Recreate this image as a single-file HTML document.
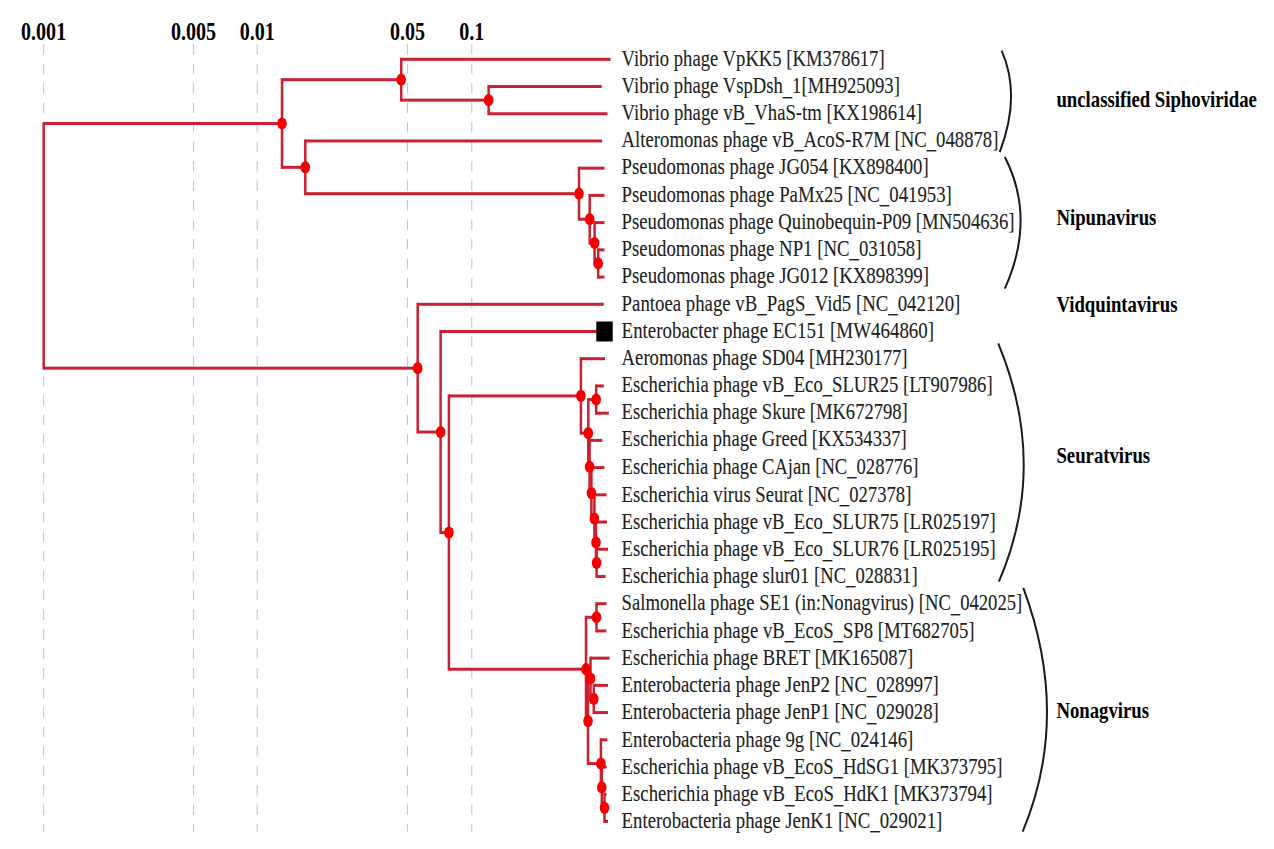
<!DOCTYPE html>
<html><head><meta charset="utf-8"><style>
html,body{margin:0;padding:0;background:#fff;}
body{width:1274px;height:849px;overflow:hidden;}
svg{display:block;}
text{font-family:"Liberation Serif",serif;}
</style></head><body>
<svg width="1274" height="849" viewBox="0 0 1274 849">
<rect width="1274" height="849" fill="#fff"/>

<line x1="43.6" y1="44" x2="43.6" y2="831.5" stroke="#c8c8c8" stroke-width="1.1" stroke-dasharray="10.5 9"/>
<line x1="193.5" y1="44" x2="193.5" y2="831.5" stroke="#c8c8c8" stroke-width="1.1" stroke-dasharray="10.5 9"/>
<line x1="257.2" y1="44" x2="257.2" y2="831.5" stroke="#c8c8c8" stroke-width="1.1" stroke-dasharray="10.5 9"/>
<line x1="407.5" y1="44" x2="407.5" y2="831.5" stroke="#c8c8c8" stroke-width="1.1" stroke-dasharray="10.5 9"/>
<line x1="471.8" y1="44" x2="471.8" y2="831.5" stroke="#c8c8c8" stroke-width="1.1" stroke-dasharray="10.5 9"/>
<text transform="translate(43.6,39.6) scale(0.7882352941176471,1)" font-size="25.5" font-weight="bold" text-anchor="middle" fill="#000">0.001</text>
<text transform="translate(193.5,39.6) scale(0.7882352941176471,1)" font-size="25.5" font-weight="bold" text-anchor="middle" fill="#000">0.005</text>
<text transform="translate(257.2,39.6) scale(0.7882352941176471,1)" font-size="25.5" font-weight="bold" text-anchor="middle" fill="#000">0.01</text>
<text transform="translate(407.5,39.6) scale(0.7882352941176471,1)" font-size="25.5" font-weight="bold" text-anchor="middle" fill="#000">0.05</text>
<text transform="translate(471.8,39.6) scale(0.7882352941176471,1)" font-size="25.5" font-weight="bold" text-anchor="middle" fill="#000">0.1</text>
<g fill="#ca2130">
<rect x="42.45" y="122.02" width="2.50" height="247.63"/>
<rect x="43.70" y="122.02" width="238.30" height="3.00"/>
<rect x="43.70" y="366.66" width="374.00" height="3.00"/>
<rect x="280.75" y="78.22" width="2.50" height="90.61"/>
<rect x="282.00" y="78.22" width="119.20" height="3.00"/>
<rect x="282.00" y="165.83" width="23.30" height="3.00"/>
<rect x="399.95" y="57.80" width="2.50" height="43.83"/>
<rect x="401.20" y="57.80" width="209.30" height="3.00"/>
<rect x="401.20" y="98.63" width="87.40" height="3.00"/>
<rect x="487.35" y="85.02" width="2.50" height="30.22"/>
<rect x="488.60" y="85.02" width="113.10" height="3.00"/>
<rect x="488.60" y="112.24" width="118.90" height="3.00"/>
<rect x="304.05" y="139.46" width="2.50" height="55.74"/>
<rect x="305.30" y="139.46" width="296.80" height="3.00"/>
<rect x="305.30" y="192.20" width="273.70" height="3.00"/>
<rect x="577.75" y="166.68" width="2.50" height="54.04"/>
<rect x="579.00" y="166.68" width="25.50" height="3.00"/>
<rect x="579.00" y="217.72" width="10.70" height="3.00"/>
<rect x="588.45" y="193.90" width="2.50" height="50.64"/>
<rect x="589.70" y="193.90" width="14.80" height="3.00"/>
<rect x="589.70" y="241.53" width="4.90" height="3.00"/>
<rect x="593.35" y="221.12" width="2.50" height="43.83"/>
<rect x="594.60" y="221.12" width="9.90" height="3.00"/>
<rect x="594.60" y="261.95" width="3.60" height="3.00"/>
<rect x="596.95" y="248.34" width="2.50" height="30.22"/>
<rect x="598.20" y="248.34" width="6.30" height="3.00"/>
<rect x="598.20" y="275.56" width="6.30" height="3.00"/>
<rect x="416.45" y="302.78" width="2.50" height="130.75"/>
<rect x="417.70" y="302.78" width="186.10" height="3.00"/>
<rect x="417.70" y="430.53" width="22.90" height="3.00"/>
<rect x="439.35" y="330.00" width="2.50" height="204.07"/>
<rect x="440.60" y="330.00" width="156.40" height="3.00"/>
<rect x="440.60" y="531.07" width="8.30" height="3.00"/>
<rect x="447.65" y="394.43" width="2.50" height="276.26"/>
<rect x="448.90" y="394.43" width="132.00" height="3.00"/>
<rect x="448.90" y="667.70" width="137.10" height="3.00"/>
<rect x="579.65" y="357.22" width="2.50" height="77.43"/>
<rect x="580.90" y="357.22" width="24.10" height="3.00"/>
<rect x="580.90" y="431.65" width="7.40" height="3.00"/>
<rect x="587.05" y="398.05" width="2.50" height="70.20"/>
<rect x="588.30" y="398.05" width="7.90" height="3.00"/>
<rect x="588.30" y="465.25" width="1.30" height="3.00"/>
<rect x="594.95" y="384.44" width="2.50" height="30.22"/>
<rect x="596.20" y="384.44" width="7.60" height="3.00"/>
<rect x="596.20" y="411.66" width="12.60" height="3.00"/>
<rect x="588.35" y="438.88" width="2.50" height="55.74"/>
<rect x="589.60" y="438.88" width="12.70" height="3.00"/>
<rect x="589.60" y="491.62" width="1.80" height="3.00"/>
<rect x="590.15" y="466.10" width="2.50" height="54.04"/>
<rect x="591.40" y="466.10" width="13.00" height="3.00"/>
<rect x="591.40" y="517.14" width="3.00" height="3.00"/>
<rect x="593.15" y="493.32" width="2.50" height="50.63"/>
<rect x="594.40" y="493.32" width="12.20" height="3.00"/>
<rect x="594.40" y="540.95" width="1.60" height="3.00"/>
<rect x="594.75" y="520.54" width="2.50" height="43.83"/>
<rect x="596.00" y="520.54" width="11.00" height="3.00"/>
<rect x="596.00" y="561.37" width="0.60" height="3.00"/>
<rect x="595.35" y="547.76" width="2.50" height="30.22"/>
<rect x="596.60" y="547.76" width="11.40" height="3.00"/>
<rect x="596.60" y="574.98" width="9.00" height="3.00"/>
<rect x="584.75" y="615.81" width="2.50" height="106.78"/>
<rect x="586.00" y="615.81" width="10.50" height="3.00"/>
<rect x="586.00" y="719.59" width="2.00" height="3.00"/>
<rect x="595.25" y="602.20" width="2.50" height="30.22"/>
<rect x="596.50" y="602.20" width="10.00" height="3.00"/>
<rect x="596.50" y="629.42" width="9.80" height="3.00"/>
<rect x="586.75" y="677.05" width="2.50" height="88.06"/>
<rect x="588.00" y="677.05" width="2.50" height="3.00"/>
<rect x="588.00" y="762.12" width="12.90" height="3.00"/>
<rect x="589.25" y="656.64" width="2.50" height="43.83"/>
<rect x="590.50" y="656.64" width="19.00" height="3.00"/>
<rect x="590.50" y="697.47" width="3.30" height="3.00"/>
<rect x="592.55" y="683.86" width="2.50" height="30.22"/>
<rect x="593.80" y="683.86" width="14.20" height="3.00"/>
<rect x="593.80" y="711.08" width="14.20" height="3.00"/>
<rect x="599.65" y="738.30" width="2.50" height="50.63"/>
<rect x="600.90" y="738.30" width="6.50" height="3.00"/>
<rect x="600.90" y="785.93" width="0.90" height="3.00"/>
<rect x="600.55" y="765.52" width="2.50" height="43.83"/>
<rect x="601.80" y="765.52" width="4.90" height="3.00"/>
<rect x="601.80" y="806.35" width="2.70" height="3.00"/>
<rect x="603.25" y="792.74" width="2.50" height="30.22"/>
<rect x="604.50" y="792.74" width="2.00" height="3.00"/>
<rect x="604.50" y="819.96" width="3.50" height="3.00"/>
</g>
<g fill="#f50000">
<ellipse cx="282.00" cy="123.52" rx="4.8" ry="6.1"/>
<ellipse cx="401.20" cy="79.72" rx="4.8" ry="6.1"/>
<ellipse cx="488.60" cy="100.13" rx="4.8" ry="6.1"/>
<ellipse cx="305.30" cy="167.33" rx="4.8" ry="6.1"/>
<ellipse cx="579.00" cy="193.70" rx="4.8" ry="6.1"/>
<ellipse cx="589.70" cy="219.22" rx="4.8" ry="6.1"/>
<ellipse cx="594.60" cy="243.03" rx="4.8" ry="6.1"/>
<ellipse cx="598.20" cy="263.45" rx="4.8" ry="6.1"/>
<ellipse cx="417.70" cy="368.16" rx="4.8" ry="6.1"/>
<ellipse cx="440.60" cy="432.03" rx="4.8" ry="6.1"/>
<ellipse cx="448.90" cy="532.57" rx="4.8" ry="6.1"/>
<ellipse cx="580.90" cy="395.93" rx="4.8" ry="6.1"/>
<ellipse cx="588.30" cy="433.15" rx="4.8" ry="6.1"/>
<ellipse cx="596.20" cy="399.55" rx="4.8" ry="6.1"/>
<ellipse cx="589.60" cy="466.75" rx="4.8" ry="6.1"/>
<ellipse cx="591.40" cy="493.12" rx="4.8" ry="6.1"/>
<ellipse cx="594.40" cy="518.64" rx="4.8" ry="6.1"/>
<ellipse cx="596.00" cy="542.45" rx="4.8" ry="6.1"/>
<ellipse cx="596.60" cy="562.87" rx="4.8" ry="6.1"/>
<ellipse cx="586.00" cy="669.20" rx="4.8" ry="6.1"/>
<ellipse cx="596.50" cy="617.31" rx="4.8" ry="6.1"/>
<ellipse cx="588.00" cy="721.09" rx="4.8" ry="6.1"/>
<ellipse cx="590.50" cy="678.55" rx="4.8" ry="6.1"/>
<ellipse cx="593.80" cy="698.97" rx="4.8" ry="6.1"/>
<ellipse cx="600.90" cy="763.62" rx="4.8" ry="6.1"/>
<ellipse cx="601.80" cy="787.43" rx="4.8" ry="6.1"/>
<ellipse cx="604.50" cy="807.85" rx="4.8" ry="6.1"/>
</g>
<rect x="596.3" y="321.50" width="16.4" height="20" fill="#000"/>
<g fill="#202020" stroke="#202020" stroke-width="0.1">
<text transform="translate(621.6,66.22) scale(0.7933,1)" font-size="23.5" xml:space="preserve">Vibrio phage VpKK5 [KM378617]</text>
<text transform="translate(621.6,93.20) scale(0.7941,1)" font-size="23.5" xml:space="preserve">Vibrio phage VspDsh<tspan dy="1.4">_</tspan><tspan dy="-1.4">1[MH925093]</tspan></text>
<text transform="translate(621.6,120.06) scale(0.7953,1)" font-size="23.5" xml:space="preserve">Vibrio phage vB<tspan dy="1.4">_</tspan><tspan dy="-1.4">VhaS-tm [KX198614]</tspan></text>
<text transform="translate(621.6,146.97) scale(0.7968,1)" font-size="23.5" xml:space="preserve">Alteromonas phage vB<tspan dy="1.4">_</tspan><tspan dy="-1.4">AcoS-R7M [NC</tspan><tspan dy="1.4">_</tspan><tspan dy="-1.4">048878]</tspan></text>
<text transform="translate(621.6,174.43) scale(0.7992,1)" font-size="23.5" xml:space="preserve">Pseudomonas phage JG054 [KX898400]</text>
<text transform="translate(621.6,201.77) scale(0.7997,1)" font-size="23.5" xml:space="preserve">Pseudomonas phage PaMx25 [NC<tspan dy="1.4">_</tspan><tspan dy="-1.4">041953]</tspan></text>
<text transform="translate(621.6,228.63) scale(0.7958,1)" font-size="23.5" xml:space="preserve">Pseudomonas phage Quinobequin-P09 [MN504636]</text>
<text transform="translate(621.6,255.96) scale(0.7993,1)" font-size="23.5" xml:space="preserve">Pseudomonas phage NP1 [NC<tspan dy="1.4">_</tspan><tspan dy="-1.4">031058]</tspan></text>
<text transform="translate(621.6,282.76) scale(0.8002,1)" font-size="23.5" xml:space="preserve">Pseudomonas phage JG012 [KX898399]</text>
<text transform="translate(621.6,310.64) scale(0.8005,1)" font-size="23.5" xml:space="preserve">Pantoea phage vB<tspan dy="1.4">_</tspan><tspan dy="-1.4">PagS</tspan><tspan dy="1.4">_</tspan><tspan dy="-1.4">Vid5 [NC</tspan><tspan dy="1.4">_</tspan><tspan dy="-1.4">042120]</tspan></text>
<text transform="translate(621.6,338.34) scale(0.8048,1)" font-size="23.5" xml:space="preserve">Enterobacter phage EC151 [MW464860]</text>
<text transform="translate(621.6,365.43) scale(0.7960,1)" font-size="23.5" xml:space="preserve">Aeromonas phage SD04 [MH230177]</text>
<text transform="translate(621.6,391.93) scale(0.7945,1)" font-size="23.5" xml:space="preserve">Escherichia phage vB<tspan dy="1.4">_</tspan><tspan dy="-1.4">Eco</tspan><tspan dy="1.4">_</tspan><tspan dy="-1.4">SLUR25 [LT907986]</tspan></text>
<text transform="translate(621.6,419.03) scale(0.7904,1)" font-size="23.5" xml:space="preserve">Escherichia phage Skure [MK672798]</text>
<text transform="translate(621.6,446.13) scale(0.7904,1)" font-size="23.5" xml:space="preserve">Escherichia phage Greed [KX534337]</text>
<text transform="translate(621.6,473.82) scale(0.7915,1)" font-size="23.5" xml:space="preserve">Escherichia phage CAjan [NC<tspan dy="1.4">_</tspan><tspan dy="-1.4">028776]</tspan></text>
<text transform="translate(621.6,501.76) scale(0.7943,1)" font-size="23.5" xml:space="preserve">Escherichia virus Seurat [NC<tspan dy="1.4">_</tspan><tspan dy="-1.4">027378]</tspan></text>
<text transform="translate(621.6,528.98) scale(0.7953,1)" font-size="23.5" xml:space="preserve">Escherichia phage vB<tspan dy="1.4">_</tspan><tspan dy="-1.4">Eco</tspan><tspan dy="1.4">_</tspan><tspan dy="-1.4">SLUR75 [LR025197]</tspan></text>
<text transform="translate(621.6,556.20) scale(0.7953,1)" font-size="23.5" xml:space="preserve">Escherichia phage vB<tspan dy="1.4">_</tspan><tspan dy="-1.4">Eco</tspan><tspan dy="1.4">_</tspan><tspan dy="-1.4">SLUR76 [LR025195]</tspan></text>
<text transform="translate(621.6,582.99) scale(0.7948,1)" font-size="23.5" xml:space="preserve">Escherichia phage slur01 [NC<tspan dy="1.4">_</tspan><tspan dy="-1.4">028831]</tspan></text>
<text transform="translate(621.6,610.15) scale(0.7935,1)" font-size="23.5" xml:space="preserve">Salmonella phage SE1 (in:Nonagvirus) [NC<tspan dy="1.4">_</tspan><tspan dy="-1.4">042025]</tspan></text>
<text transform="translate(621.6,637.79) scale(0.7967,1)" font-size="23.5" xml:space="preserve">Escherichia phage vB<tspan dy="1.4">_</tspan><tspan dy="-1.4">EcoS</tspan><tspan dy="1.4">_</tspan><tspan dy="-1.4">SP8 [MT682705]</tspan></text>
<text transform="translate(621.6,665.37) scale(0.7951,1)" font-size="23.5" xml:space="preserve">Escherichia phage BRET [MK165087]</text>
<text transform="translate(621.6,692.46) scale(0.7989,1)" font-size="23.5" xml:space="preserve">Enterobacteria phage JenP2 [NC<tspan dy="1.4">_</tspan><tspan dy="-1.4">028997]</tspan></text>
<text transform="translate(621.6,719.44) scale(0.7989,1)" font-size="23.5" xml:space="preserve">Enterobacteria phage JenP1 [NC<tspan dy="1.4">_</tspan><tspan dy="-1.4">029028]</tspan></text>
<text transform="translate(621.6,747.02) scale(0.8006,1)" font-size="23.5" xml:space="preserve">Enterobacteria phage 9g [NC<tspan dy="1.4">_</tspan><tspan dy="-1.4">024146]</tspan></text>
<text transform="translate(621.6,773.64) scale(0.7963,1)" font-size="23.5" xml:space="preserve">Escherichia phage vB<tspan dy="1.4">_</tspan><tspan dy="-1.4">EcoS</tspan><tspan dy="1.4">_</tspan><tspan dy="-1.4">HdSG1 [MK373795]</tspan></text>
<text transform="translate(621.6,801.22) scale(0.7971,1)" font-size="23.5" xml:space="preserve">Escherichia phage vB<tspan dy="1.4">_</tspan><tspan dy="-1.4">EcoS</tspan><tspan dy="1.4">_</tspan><tspan dy="-1.4">HdK1 [MK373794]</tspan></text>
<text transform="translate(621.6,827.59) scale(0.7994,1)" font-size="23.5" xml:space="preserve">Enterobacteria phage JenK1 [NC<tspan dy="1.4">_</tspan><tspan dy="-1.4">029021]</tspan></text>
</g>
<g fill="none" stroke="#1a1a1a" stroke-width="2">
<path d="M1001.6,50.6 Q1021.5,95.2 999.7,152.2"/>
<path d="M1004.8,157 Q1036.4,218.2 1004.8,288.7"/>
<path d="M998.2,343.4 Q1048.9,465.1 998.9,581.6"/>
<path d="M1023.3,587.9 Q1071.0,716.0 1022.7,831.6"/>
</g>
<g fill="#000" font-weight="bold">
<text transform="translate(1056.4,107.3) scale(0.8408,1)" font-size="22.3">unclassified Siphoviridae</text>
<text transform="translate(1056.4,225.1) scale(0.8408,1)" font-size="22.3">Nipunavirus</text>
<text transform="translate(1056.4,311.8) scale(0.8408,1)" font-size="22.3">Vidquintavirus</text>
<text transform="translate(1056.4,463.3) scale(0.8408,1)" font-size="22.3">Seuratvirus</text>
<text transform="translate(1056.4,717.9) scale(0.8408,1)" font-size="22.3">Nonagvirus</text>
</g>
</svg>
</body></html>
